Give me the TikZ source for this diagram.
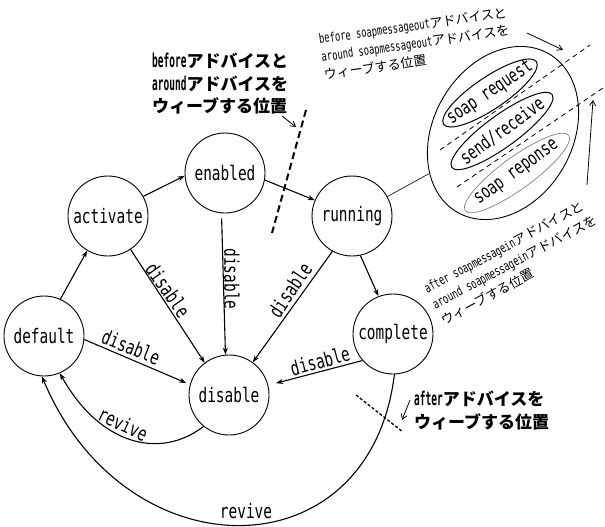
\documentclass[tikz,border=0pt]{standalone}
\usepackage{fontspec}
\setmainfont{Noto Sans CJK JP}
\newfontfamily\monoA{DejaVu Sans Mono}[FakeStretch=0.72]
\newfontfamily\monoB{DejaVu Sans Mono}[FakeStretch=0.5]
\newfontfamily\monoC{DejaVu Sans Mono}[FakeStretch=0.68]
\usetikzlibrary{arrows.meta,shapes.geometric}
\newcommand\latL[1]{{\fontsize{19}{23}\selectfont\monoB\bfseries #1}}
\newcommand\latS[1]{{\fontsize{13}{18}\selectfont\monoC #1}}
\tikzset{
  state/.style={circle,draw,line width=0.9pt,minimum size=80pt,inner sep=0pt,font=\fontsize{20}{24}\selectfont\monoA},
  edge/.style={line width=1.1pt,-{Stealth[length=7pt,width=5pt]}},
  elab/.style={font=\fontsize{20}{24}\selectfont\monoA,inner sep=0pt},
  annoL/.style={align=left,inner sep=0pt,font=\fontsize{17}{22.5}\selectfont\bfseries},
  annoS/.style={align=left,inner sep=0pt,font=\fontsize{13}{18}\selectfont},
  pointer/.style={line width=0.8pt,-{Straight Barb[length=5pt,width=6pt]}},
  inell/.style={ellipse,draw,line width=1pt,minimum width=112pt,minimum height=32pt,inner sep=0pt},
  intext/.style={font=\fontsize{19}{22}\selectfont\monoA,inner sep=0pt},
}
\begin{document}
\begin{tikzpicture}[x=1pt,y=-1pt]
\useasboundingbox (0,0) rectangle (605,527);
% states
\node[state] (default)  at (44,336)  {default};
\node[state] (activate) at (108,216) {activate};
\node[state] (enabled)  at (225,173) {enabled};
\node[state] (running)  at (352,216) {running};
\node[state] (complete) at (393,334) {complete};
\node[state] (disable)  at (229,395) {disable};
% soap ellipse
\node[ellipse,draw,line width=0.9pt,minimum width=139pt,minimum height=183pt,rotate=-30] (soap) at (503,133) {};
\node[inell,rotate=34] (req) at (490,93) {};
\node[intext,rotate=34] (reqT) at (490,93) {soap request};
\node[inell,rotate=36,minimum width=124pt] (sr) at (502,131) {};
\node[intext,rotate=36] (srT) at (502,131) {send/receive};
\node[inell,rotate=36,minimum width=128pt,draw=gray,line width=0.7pt] (resp) at (517,173) {};
\node[intext,rotate=36] (respT) at (517,173) {soap reponse};
\draw[line width=0.8pt,dash pattern=on 5pt off 4pt] (440,150) -- (590,45);
\draw[line width=0.8pt,dash pattern=on 5pt off 4pt] (457,187) -- (603,88);
\draw[line width=0.6pt] (running) -- (soap);
% edges
\draw[edge] (default.66) -- (activate.239);
\draw[edge] (activate.29) -- (enabled.184);
\draw[edge] (enabled.350) -- (running.157);
\draw[edge,shorten <=5pt] (enabled.265) -- (disable.95);
\draw[edge] (activate.304) -- (disable.127);
\draw[edge] (running.241) -- (disable.54);
\draw[edge] (running.282) -- (complete.111);
\draw[edge,shorten >=8pt] (complete.221) -- (disable.14);
\draw[edge,shorten >=4pt] (default.355) -- (disable.165);
\draw[edge] (disable.231) .. controls (160,460) and (100,445) .. (default.293);
\draw[edge] (complete.272) .. controls (370,575) and (125,575) .. (default.267);
% edge labels
\node[elab,rotate=-90] (l1) at (232,279) {disable};
\node[elab,rotate=-55] (l2) at (168,290) {disable};
\node[elab,rotate=56]  (l3) at (290,290) {disable};
\node[elab,rotate=15]  (l4) at (320,361) {disable};
\node[elab,rotate=-22] (l5) at (131,347) {disable};
\node[elab,rotate=-25] (l6) at (123,424) {revive};
\node[elab] (l7) at (246,511) {revive};
% annotations
\node[annoL,anchor=north west] (annoBefore) at (152,53)
  {\latL{before}アドバイスと\\\latL{around}アドバイスを\\ウィーブする位置};
\coordinate (pb1) at (282,116); \coordinate (pb2) at (296,127);
\draw[pointer] (pb1) -- (pb2);
\draw[line width=2pt,dash pattern=on 7pt off 4pt] (306,110) -- (272,233);
\node[annoL,anchor=north west] (annoAfter) at (414,391)
  {\latL{after}アドバイスを\\ウィーブする位置};
\coordinate (pa1) at (410,400); \coordinate (pa2) at (402,420);
\draw[pointer] (pa1) -- (pa2);
\draw[line width=1.3pt,dash pattern=on 3pt off 2pt] (356,395) -- (403,432);
\node[annoS,anchor=north west,rotate=8] (annoOut) at (318,33)
  {\latS{before soapmessageout}アドバイスと\\\latS{around soapmessageout}アドバイスを\\ウィーブする位置};
\coordinate (po1) at (527,33); \coordinate (po2) at (563,50);
\draw[pointer] (po1) -- (po2);
\node[annoS,anchor=north west,rotate=28] (annoIn) at (422,284)
  {\latS{after soapmessagein}アドバイスと\\\latS{around soapmessagein}アドバイスを\\ウィーブする位置};
\coordinate (pi1) at (587,185); \coordinate (pi2) at (593,100);
\draw[pointer] (pi1) -- (pi2);
\end{tikzpicture}
\end{document}
